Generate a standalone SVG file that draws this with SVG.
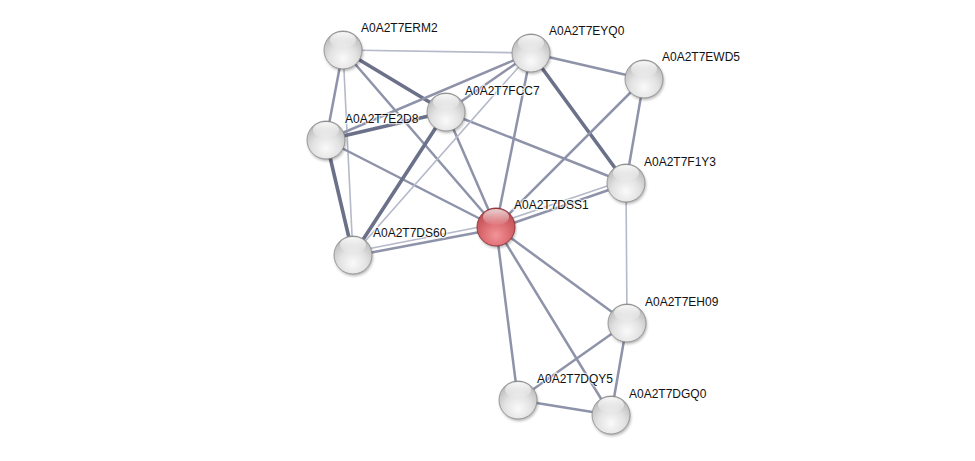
<svg xmlns="http://www.w3.org/2000/svg" width="975" height="461" viewBox="0 0 975 461">
<style>
.e{stroke:#8e93a9;stroke-width:2.5;fill:none;stroke-linecap:round}
.l{stroke:#b5b9c9;stroke-width:1.6}
.t{stroke:#6c718a;stroke-width:3.6}
.n{fill:url(#g);stroke:#8a8a8a;stroke-width:0.8}
.r{fill:url(#gr);stroke:#8e3036;stroke-width:0.9}
.h{fill:url(#hl)}
.s{fill:#000;opacity:0.3;filter:url(#sh)}
text{font-family:"Liberation Sans",Arial,sans-serif;font-size:12px;fill:#111;paint-order:stroke;stroke:#fff;stroke-width:2.5px;stroke-opacity:0.7}
</style>
<defs>
<radialGradient id="g" cx="0.5" cy="0.72" r="0.72">
<stop offset="0" stop-color="#fafafa"/>
<stop offset="0.5" stop-color="#e2e2e2"/>
<stop offset="0.85" stop-color="#c2c2c2"/>
<stop offset="1" stop-color="#8f8f8f"/>
</radialGradient>
<radialGradient id="gr" cx="0.5" cy="0.72" r="0.72">
<stop offset="0" stop-color="#f29499"/>
<stop offset="0.5" stop-color="#db6b71"/>
<stop offset="0.85" stop-color="#c2545a"/>
<stop offset="1" stop-color="#8e3036"/>
</radialGradient>
<linearGradient id="hl" x1="0" y1="0" x2="0" y2="1">
<stop offset="0" stop-color="#fff" stop-opacity="0.95"/>
<stop offset="1" stop-color="#fff" stop-opacity="0.05"/>
</linearGradient>
<filter id="sh" x="-30%" y="-30%" width="160%" height="160%"><feGaussianBlur stdDeviation="1.5"/></filter>
</defs>
<g id="edges">
<line class="e l" x1="343" y1="50" x2="531" y2="53"/>
<line class="e" x1="343" y1="50" x2="326" y2="140"/>
<line class="e t" x1="343" y1="50" x2="446" y2="112"/>
<line class="e" x1="343" y1="50" x2="496" y2="227"/>
<line class="e l" x1="343" y1="50" x2="353" y2="255"/>
<line class="e t" x1="326" y1="140" x2="446" y2="112"/>
<line class="e" x1="326" y1="140" x2="531" y2="53"/>
<line class="e" x1="326" y1="140" x2="496" y2="227"/>
<line class="e t" x1="326" y1="140" x2="353" y2="255"/>
<line class="e" x1="446" y1="112" x2="531" y2="53"/>
<line class="e" x1="446" y1="112" x2="496" y2="227"/>
<line class="e" x1="446" y1="112" x2="626" y2="183"/>
<line class="e t" x1="446" y1="112" x2="353" y2="255"/>
<line class="e" x1="531" y1="53" x2="496" y2="227"/>
<line class="e l" x1="531" y1="53" x2="353" y2="255"/>
<line class="e" x1="531" y1="53" x2="644" y2="79"/>
<line class="e t" x1="531" y1="53" x2="626" y2="183"/>
<line class="e" x1="644" y1="79" x2="626" y2="183"/>
<line class="e" x1="644" y1="79" x2="496" y2="227"/>
<line class="e" x1="626" y1="184" x2="496" y2="229"/>
<line class="e l" x1="625" y1="180" x2="495" y2="224"/>
<line class="e l" x1="626" y1="183" x2="627" y2="323"/>
<line class="e" x1="496" y1="229" x2="353" y2="256"/>
<line class="e l" x1="495" y1="224" x2="352" y2="252"/>
<line class="e" x1="496" y1="227" x2="627" y2="323"/>
<line class="e" x1="496" y1="227" x2="518" y2="400"/>
<line class="e" x1="496" y1="227" x2="611" y2="415"/>
<line class="e" x1="627" y1="323" x2="518" y2="400"/>
<line class="e" x1="627" y1="323" x2="611" y2="415"/>
<line class="e" x1="518" y1="400" x2="611" y2="415"/>
</g>
<g id="A0A2T7ERM2"><circle class="s" cx="344" cy="52" r="19"/><circle class="n" cx="343" cy="50" r="19"/><ellipse class="h" cx="343" cy="40" rx="13" ry="8"/><text x="361" y="32">A0A2T7ERM2</text></g>
<g id="A0A2T7EYQ0"><circle class="s" cx="532" cy="55" r="19"/><circle class="n" cx="531" cy="53" r="19"/><ellipse class="h" cx="531" cy="43" rx="13" ry="8"/><text x="549" y="35">A0A2T7EYQ0</text></g>
<g id="A0A2T7EWD5"><circle class="s" cx="645" cy="81" r="19"/><circle class="n" cx="644" cy="79" r="19"/><ellipse class="h" cx="644" cy="69" rx="13" ry="8"/><text x="662" y="61">A0A2T7EWD5</text></g>
<g id="A0A2T7FCC7"><circle class="s" cx="447" cy="114" r="19"/><circle class="n" cx="446" cy="112" r="19"/><ellipse class="h" cx="446" cy="102" rx="13" ry="8"/><text x="465" y="95">A0A2T7FCC7</text></g>
<g id="A0A2T7E2D8"><circle class="s" cx="327" cy="142" r="19"/><circle class="n" cx="326" cy="140" r="19"/><ellipse class="h" cx="326" cy="130" rx="13" ry="8"/><text x="345" y="123">A0A2T7E2D8</text></g>
<g id="A0A2T7F1Y3"><circle class="s" cx="627" cy="185" r="19"/><circle class="n" cx="626" cy="183" r="19"/><ellipse class="h" cx="626" cy="173" rx="13" ry="8"/><text x="644" y="166">A0A2T7F1Y3</text></g>
<g id="A0A2T7DSS1"><circle class="s" cx="497" cy="229" r="19"/><circle class="r" cx="496" cy="227" r="19"/><ellipse class="h" cx="496" cy="217" rx="13" ry="8" opacity="0.8"/><text x="514" y="209">A0A2T7DSS1</text></g>
<g id="A0A2T7DS60"><circle class="s" cx="354" cy="257" r="19"/><circle class="n" cx="353" cy="255" r="19"/><ellipse class="h" cx="353" cy="245" rx="13" ry="8"/><text x="373" y="237">A0A2T7DS60</text></g>
<g id="A0A2T7EH09"><circle class="s" cx="628" cy="325" r="19"/><circle class="n" cx="627" cy="323" r="19"/><ellipse class="h" cx="627" cy="313" rx="13" ry="8"/><text x="645" y="306">A0A2T7EH09</text></g>
<g id="A0A2T7DQY5"><circle class="s" cx="519" cy="402" r="19"/><circle class="n" cx="518" cy="400" r="19"/><ellipse class="h" cx="518" cy="390" rx="13" ry="8"/><text x="537" y="383">A0A2T7DQY5</text></g>
<g id="A0A2T7DGQ0"><circle class="s" cx="612" cy="417" r="19"/><circle class="n" cx="611" cy="415" r="19"/><ellipse class="h" cx="611" cy="405" rx="13" ry="8"/><text x="629" y="398">A0A2T7DGQ0</text></g>
</svg>
